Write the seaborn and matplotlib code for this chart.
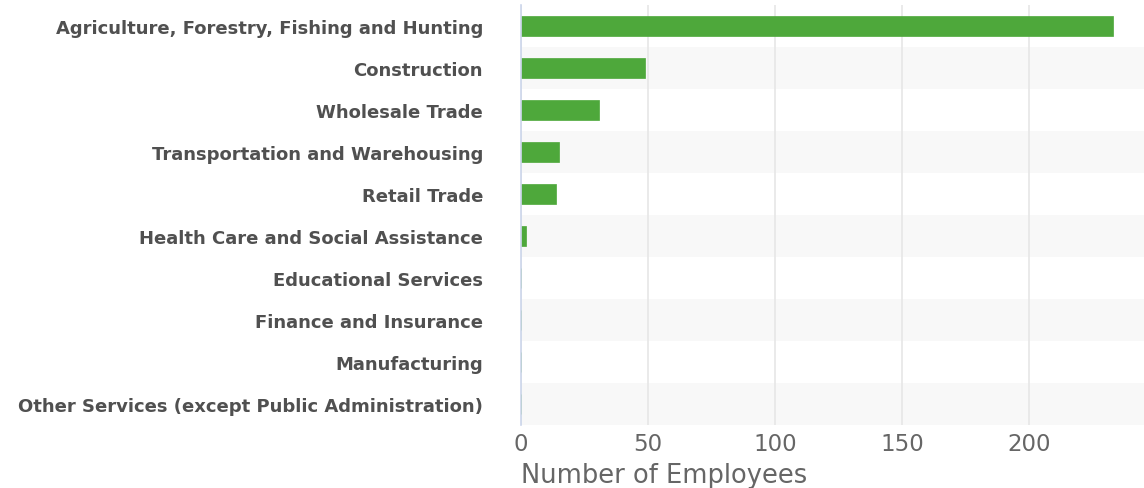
import matplotlib
matplotlib.use("Agg")
import matplotlib.pyplot as plt
import seaborn as sns
import pandas as pd

industries = [
    "Agriculture, Forestry, Fishing and Hunting",
    "Construction",
    "Wholesale Trade",
    "Transportation and Warehousing",
    "Retail Trade",
    "Health Care and Social Assistance",
    "Educational Services",
    "Finance and Insurance",
    "Manufacturing",
    "Other Services (except Public Administration)",
]
employees = [233, 49, 31, 15, 14, 2, 0, 0, 0, 0]
x_ticks = [0, 50, 100, 150, 200]

df = pd.DataFrame({"industry": industries, "employees": employees})

sns.set_theme(style="white")
plt.rcParams["font.family"] = ["DejaVu Sans"]

fig = plt.figure(figsize=(11.44, 4.89), dpi=100)
ax = fig.add_axes([0.455, 0.129, 0.545, 0.859])

# alternating row bands
for i in range(len(industries)):
    if i % 2 == 1:
        ax.axhspan(i - 0.5, i + 0.5, color="#f8f8f8", zorder=0, lw=0)

sns.barplot(data=df, x="employees", y="industry", orient="h",
            color="#4ea83b", saturation=1, width=0.48, ax=ax, zorder=3,
            edgecolor="#4ea83b", linewidth=0.5)

ax.set_xlim(0, 245)
ax.set_ylim(len(industries) - 0.5, -0.5)
ax.set_xticks(x_ticks)
ax.xaxis.grid(True, color="#e6e6e6", linewidth=1.2, zorder=1)
ax.set_axisbelow(True)
for s in ["top", "right", "bottom"]:
    ax.spines[s].set_visible(False)
ax.spines["left"].set_color("#ccd6eb")
ax.spines["left"].set_linewidth(1.2)
ax.spines["left"].set_zorder(4)

ax.tick_params(axis="y", length=0, pad=27, labelsize=13, labelcolor="#505050")
for lbl in ax.get_yticklabels():
    lbl.set_fontweight("bold")
ax.tick_params(axis="x", length=0, pad=5, labelsize=16.5, labelcolor="#666666")
ax.set_ylabel("")
ax.set_xlabel("Number of Employees", fontsize=18.5, color="#666666", loc="left",
              labelpad=5)

fig.savefig("out.png", dpi=100)
